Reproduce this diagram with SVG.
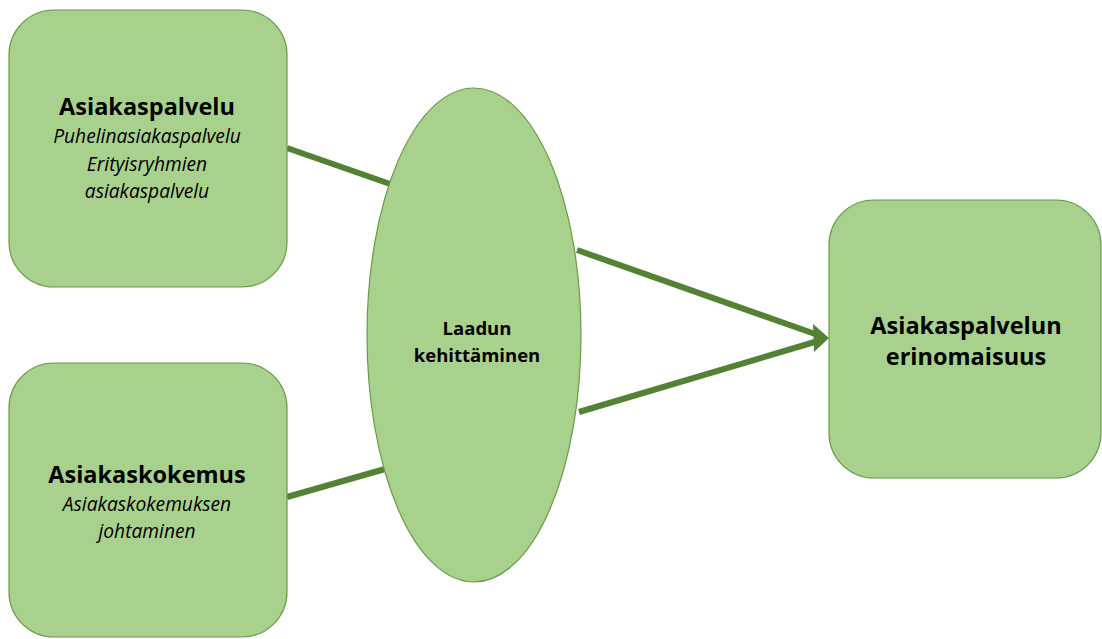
<svg xmlns="http://www.w3.org/2000/svg" width="1102" height="639" viewBox="0 0 1102 639">
<style>
.node{fill:#A9D18E;stroke:#6B9A47;stroke-width:1.2}
.conn{stroke:#548235;stroke-width:6;fill:none}
.t{font-family:"Open Sans",Lato,sans-serif;fill:#000;text-anchor:middle}
.b{font-weight:bold}
.i{font-style:italic}
</style>
<rect width="1102" height="639" fill="#fff"/>
<g id="connectors">
<line class="conn" x1="287" y1="148" x2="393" y2="185"/>
<line class="conn" x1="287" y1="497" x2="385" y2="469"/>
<line class="conn" x1="577" y1="250" x2="818" y2="335"/>
<line class="conn" x1="579" y1="412" x2="818" y2="341"/>
<polygon points="813,324 829,338 814,352" fill="#548235"/>
</g>
<g id="asiakaspalvelu">
<rect class="node" x="9" y="10" width="278" height="277" rx="45"/>
<text class="t b" x="147" y="115" font-size="23.5">Asiakaspalvelu</text>
<text class="t i" x="147" y="143" font-size="19.2">Puhelinasiakaspalvelu</text>
<text class="t i" x="147" y="171" font-size="19.2">Erityisryhmien</text>
<text class="t i" x="147" y="198" font-size="19.2">asiakaspalvelu</text>
</g>
<g id="asiakaskokemus">
<rect class="node" x="9" y="363" width="278" height="274" rx="45"/>
<text class="t b" x="147" y="483" font-size="23.5">Asiakaskokemus</text>
<text class="t i" x="147" y="511" font-size="19.2">Asiakaskokemuksen</text>
<text class="t i" x="147" y="538" font-size="19.2">johtaminen</text>
</g>
<g id="laadun">
<ellipse class="node" cx="474" cy="335" rx="107" ry="247"/>
<text class="t b" x="477" y="335" font-size="18.5">Laadun</text>
<text class="t b" x="477" y="362" font-size="18.5">kehittäminen</text>
</g>
<g id="erinomaisuus">
<rect class="node" x="829" y="200" width="272" height="278" rx="45"/>
<text class="t b" x="966" y="334" font-size="23.5">Asiakaspalvelun</text>
<text class="t b" x="966" y="365" font-size="23.5">erinomaisuus</text>
</g>
</svg>
